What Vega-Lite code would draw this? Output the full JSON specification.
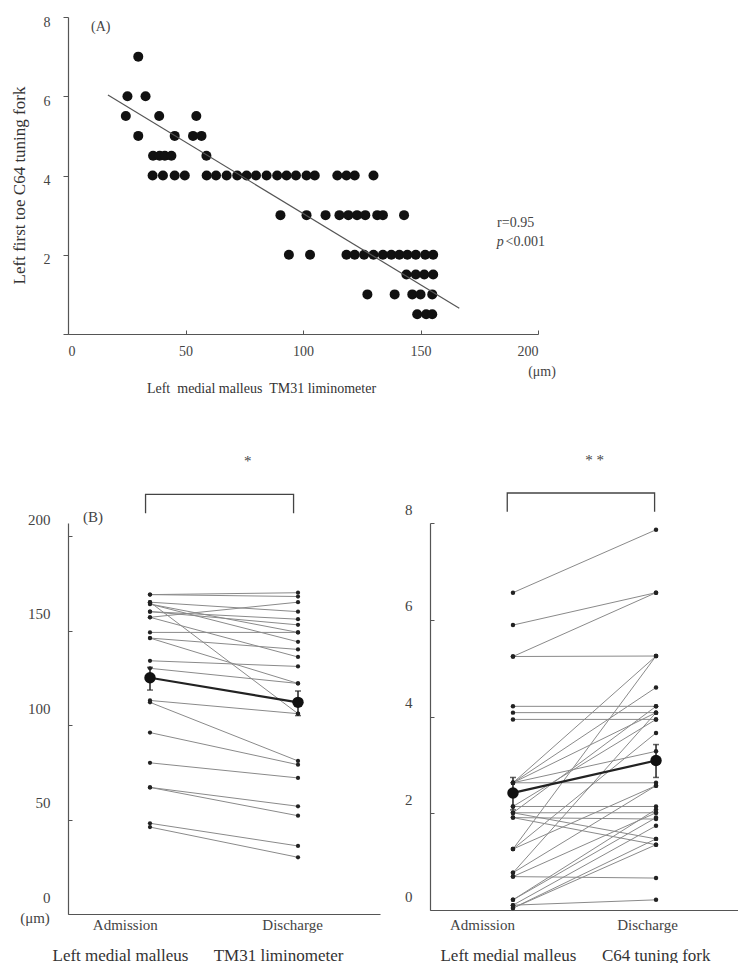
{
  "$schema": "https://vega.github.io/schema/vega-lite/v6.json",
  "padding": {"left": 10, "top": 15, "right": 0, "bottom": 0},
  "background": "white",
  "config": {
    "font": "Liberation Serif",
    "view": {"stroke": null},
    "axis": {
      "grid": false,
      "domainColor": "#555",
      "tickColor": "#555",
      "labelColor": "#444",
      "titleColor": "#333",
      "labelFont": "Liberation Serif",
      "titleFont": "Liberation Serif",
      "labelFontSize": 14,
      "titleFontSize": 15,
      "titleFontWeight": "normal",
      "domainWidth": 1.2
    },
    "text": {"font": "Liberation Serif", "color": "#444"}
  },
  "datasets": {
    "scatter": [
      {"malleus": 29.9, "c64": 7},
      {"malleus": 25.3, "c64": 6}, {"malleus": 33, "c64": 6},
      {"malleus": 24.6, "c64": 5.5}, {"malleus": 38.8, "c64": 5.5}, {"malleus": 54.6, "c64": 5.5},
      {"malleus": 29.9, "c64": 5}, {"malleus": 45.4, "c64": 5}, {"malleus": 53.2, "c64": 5}, {"malleus": 56.8, "c64": 5},
      {"malleus": 36.2, "c64": 4.5}, {"malleus": 39, "c64": 4.5}, {"malleus": 41.2, "c64": 4.5}, {"malleus": 44, "c64": 4.5}, {"malleus": 58.9, "c64": 4.5},
      {"malleus": 36, "c64": 4}, {"malleus": 40.4, "c64": 4}, {"malleus": 45.4, "c64": 4}, {"malleus": 49.7, "c64": 4},
      {"malleus": 59, "c64": 4}, {"malleus": 63, "c64": 4}, {"malleus": 67.5, "c64": 4}, {"malleus": 72, "c64": 4},
      {"malleus": 76, "c64": 4}, {"malleus": 80, "c64": 4}, {"malleus": 84.5, "c64": 4}, {"malleus": 89, "c64": 4},
      {"malleus": 93, "c64": 4}, {"malleus": 97, "c64": 4}, {"malleus": 101.5, "c64": 4}, {"malleus": 105, "c64": 4},
      {"malleus": 114.6, "c64": 4}, {"malleus": 118.5, "c64": 4}, {"malleus": 122, "c64": 4}, {"malleus": 130, "c64": 4},
      {"malleus": 90.4, "c64": 3}, {"malleus": 101.5, "c64": 3}, {"malleus": 109.6, "c64": 3}, {"malleus": 115.5, "c64": 3},
      {"malleus": 119.3, "c64": 3}, {"malleus": 123, "c64": 3}, {"malleus": 126.5, "c64": 3}, {"malleus": 131.6, "c64": 3},
      {"malleus": 134, "c64": 3}, {"malleus": 143, "c64": 3},
      {"malleus": 94, "c64": 2}, {"malleus": 103, "c64": 2}, {"malleus": 118.5, "c64": 2}, {"malleus": 122, "c64": 2},
      {"malleus": 126, "c64": 2}, {"malleus": 130, "c64": 2}, {"malleus": 134, "c64": 2}, {"malleus": 137.6, "c64": 2},
      {"malleus": 141, "c64": 2}, {"malleus": 144.4, "c64": 2}, {"malleus": 148, "c64": 2}, {"malleus": 152, "c64": 2},
      {"malleus": 155.4, "c64": 2},
      {"malleus": 144, "c64": 1.5}, {"malleus": 148, "c64": 1.5}, {"malleus": 151.6, "c64": 1.5}, {"malleus": 155.4, "c64": 1.5},
      {"malleus": 127.4, "c64": 1}, {"malleus": 139, "c64": 1}, {"malleus": 146.5, "c64": 1}, {"malleus": 150, "c64": 1}, {"malleus": 155, "c64": 1},
      {"malleus": 148.6, "c64": 0.5}, {"malleus": 152.4, "c64": 0.5}, {"malleus": 155, "c64": 0.5}
    ],
    "fit": [
      {"malleus": 17, "c64": 6.03},
      {"malleus": 166.5, "c64": 0.65}
    ],
    "annA": [
      {"x": 9.8, "y": 7.76, "label": "(A)", "align": "left"},
      {"x": 182.6, "y": 2.79, "label": "r=0.95", "align": "left"},
      {"x": 186.2, "y": 2.31, "label": "<0.001", "align": "left"}
    ],
    "annAitalic": [
      {"x": 182.4, "y": 2.31, "label": "p"}
    ],
    "annAunit": [
      {"x": 201.7, "y": -0.95, "label": "(μm)"}
    ],
    "tm31": [
      {"id": 1, "t": 0, "v": 169}, {"id": 1, "t": 1, "v": 170},
      {"id": 2, "t": 0, "v": 169}, {"id": 2, "t": 1, "v": 168},
      {"id": 3, "t": 0, "v": 165}, {"id": 3, "t": 1, "v": 160},
      {"id": 4, "t": 0, "v": 165}, {"id": 4, "t": 1, "v": 106},
      {"id": 5, "t": 0, "v": 164}, {"id": 5, "t": 1, "v": 149},
      {"id": 6, "t": 0, "v": 164}, {"id": 6, "t": 1, "v": 144},
      {"id": 7, "t": 0, "v": 160}, {"id": 7, "t": 1, "v": 156},
      {"id": 8, "t": 0, "v": 160}, {"id": 8, "t": 1, "v": 153},
      {"id": 9, "t": 0, "v": 157}, {"id": 9, "t": 1, "v": 165},
      {"id": 10, "t": 0, "v": 157}, {"id": 10, "t": 1, "v": 136},
      {"id": 11, "t": 0, "v": 149}, {"id": 11, "t": 1, "v": 149},
      {"id": 12, "t": 0, "v": 146}, {"id": 12, "t": 1, "v": 140},
      {"id": 13, "t": 0, "v": 146}, {"id": 13, "t": 1, "v": 122},
      {"id": 14, "t": 0, "v": 134}, {"id": 14, "t": 1, "v": 131},
      {"id": 15, "t": 0, "v": 130}, {"id": 15, "t": 1, "v": 122},
      {"id": 16, "t": 0, "v": 113}, {"id": 16, "t": 1, "v": 106},
      {"id": 17, "t": 0, "v": 112}, {"id": 17, "t": 1, "v": 81},
      {"id": 18, "t": 0, "v": 96}, {"id": 18, "t": 1, "v": 79},
      {"id": 19, "t": 0, "v": 80}, {"id": 19, "t": 1, "v": 72},
      {"id": 20, "t": 0, "v": 67}, {"id": 20, "t": 1, "v": 57},
      {"id": 21, "t": 0, "v": 67}, {"id": 21, "t": 1, "v": 52},
      {"id": 22, "t": 0, "v": 48}, {"id": 22, "t": 1, "v": 36},
      {"id": 23, "t": 0, "v": 46}, {"id": 23, "t": 1, "v": 30}
    ],
    "tm31mean": [
      {"t": 0, "mean": 125, "lo": 118.5, "hi": 130.5},
      {"t": 1, "mean": 112, "lo": 105, "hi": 118}
    ],
    "bracketL": [
      {"t": -0.03, "v": 212, "o": 1},
      {"t": -0.03, "v": 222, "o": 2},
      {"t": 0.97, "v": 222, "o": 3},
      {"t": 0.97, "v": 212, "o": 4}
    ],
    "annBL": [
      {"t": 0.66, "v": 239.7, "label": "*"},
      {"t": -0.385, "v": 210, "label": "(B)"},
      {"t": -0.777, "v": -2.1, "label": "(μm)"}
    ],
    "c64": [
      {"id": 1, "t": 0, "v": 6.56}, {"id": 1, "t": 1, "v": 7.86},
      {"id": 2, "t": 0, "v": 5.89}, {"id": 2, "t": 1, "v": 6.56},
      {"id": 3, "t": 0, "v": 5.24}, {"id": 3, "t": 1, "v": 6.56},
      {"id": 4, "t": 0, "v": 5.24}, {"id": 4, "t": 1, "v": 5.25},
      {"id": 5, "t": 0, "v": 4.21}, {"id": 5, "t": 1, "v": 4.21},
      {"id": 6, "t": 0, "v": 4.08}, {"id": 6, "t": 1, "v": 4.08},
      {"id": 7, "t": 0, "v": 3.94}, {"id": 7, "t": 1, "v": 3.94},
      {"id": 8, "t": 0, "v": 2.63}, {"id": 8, "t": 1, "v": 5.25},
      {"id": 9, "t": 0, "v": 2.63}, {"id": 9, "t": 1, "v": 4.6},
      {"id": 10, "t": 0, "v": 2.63}, {"id": 10, "t": 1, "v": 4.08},
      {"id": 11, "t": 0, "v": 2.63}, {"id": 11, "t": 1, "v": 3.28},
      {"id": 12, "t": 0, "v": 2.63}, {"id": 12, "t": 1, "v": 2.63},
      {"id": 13, "t": 0, "v": 2.14}, {"id": 13, "t": 1, "v": 2.14},
      {"id": 14, "t": 0, "v": 2.14}, {"id": 14, "t": 1, "v": 3.94},
      {"id": 15, "t": 0, "v": 2.01}, {"id": 15, "t": 1, "v": 2.01},
      {"id": 16, "t": 0, "v": 2.01}, {"id": 16, "t": 1, "v": 4.21},
      {"id": 17, "t": 0, "v": 2.01}, {"id": 17, "t": 1, "v": 1.47},
      {"id": 18, "t": 0, "v": 1.91}, {"id": 18, "t": 1, "v": 1.88},
      {"id": 19, "t": 0, "v": 1.91}, {"id": 19, "t": 1, "v": 1.35},
      {"id": 20, "t": 0, "v": 1.26}, {"id": 20, "t": 1, "v": 3.66},
      {"id": 21, "t": 0, "v": 1.26}, {"id": 21, "t": 1, "v": 5.25},
      {"id": 22, "t": 0, "v": 1.26}, {"id": 22, "t": 1, "v": 2.57},
      {"id": 23, "t": 0, "v": 0.77}, {"id": 23, "t": 1, "v": 2.57},
      {"id": 24, "t": 0, "v": 0.77}, {"id": 24, "t": 1, "v": 4.08},
      {"id": 25, "t": 0, "v": 0.69}, {"id": 25, "t": 1, "v": 0.66},
      {"id": 26, "t": 0, "v": 0.69}, {"id": 26, "t": 1, "v": 2.01},
      {"id": 27, "t": 0, "v": 0.21}, {"id": 27, "t": 1, "v": 2.08},
      {"id": 28, "t": 0, "v": 0.21}, {"id": 28, "t": 1, "v": 1.91},
      {"id": 29, "t": 0, "v": 0.1}, {"id": 29, "t": 1, "v": 0.21},
      {"id": 30, "t": 0, "v": 0.1}, {"id": 30, "t": 1, "v": 1.74},
      {"id": 31, "t": 0, "v": 0.04}, {"id": 31, "t": 1, "v": 1.47},
      {"id": 32, "t": 0, "v": 0.04}, {"id": 32, "t": 1, "v": 1.35}
    ],
    "c64mean": [
      {"t": 0, "mean": 2.42, "lo": 2.07, "hi": 2.74},
      {"t": 1, "mean": 3.09, "lo": 2.74, "hi": 3.42}
    ],
    "bracketR": [
      {"t": -0.04, "v": 8.23, "o": 1},
      {"t": -0.04, "v": 8.62, "o": 2},
      {"t": 0.99, "v": 8.62, "o": 3},
      {"t": 0.99, "v": 8.23, "o": 4}
    ],
    "annBR": [
      {"t": 0.57, "v": 9.3, "label": "* *"}
    ]
  },
  "bounds": "flush",
  "spacing": 189,
  "vconcat": [
    {
      "width": 470,
      "height": 317,
      "layer": [
        {
          "data": {"name": "scatter"},
          "mark": {"type": "circle", "size": 100, "color": "#111", "opacity": 1},
          "encoding": {
            "x": {"field": "malleus", "type": "quantitative", "scale": {"domain": [0, 200]},
                  "axis": {"values": [0, 50, 100, 150, 200], "title": "Left\u00a0 medial malleus\u00a0 TM31 liminometer",
                           "titleX": 193, "titleY": 54, "titleBaseline": "middle", "titleFontSize": 14,
                           "labelFontSize": 14, "tickSize": -4, "labelPadding": 14}},
            "y": {"field": "c64", "type": "quantitative", "scale": {"domain": [0, 8]},
                  "axis": {"values": [0, 2, 4, 6, 8], "labelExpr": "datum.value == 0 ? '' : datum.label",
                           "title": "Left first toe C64 tuning fork", "titleFontSize": 17, "labelFontSize": 14,
                           "labelOffset": 5, "tickSize": 5, "labelPadding": 13, "titlePadding": 15, "titleY": 168}}
          }
        },
        {
          "data": {"name": "fit"},
          "mark": {"type": "line", "color": "#555", "strokeWidth": 1.2},
          "encoding": {
            "x": {"field": "malleus", "type": "quantitative", "scale": {"domain": [0, 200]}},
            "y": {"field": "c64", "type": "quantitative", "scale": {"domain": [0, 8]}}
          }
        },
        {
          "data": {"name": "annA"},
          "mark": {"type": "text", "align": "left", "baseline": "middle", "fontSize": 14},
          "encoding": {
            "x": {"field": "x", "type": "quantitative", "scale": {"domain": [0, 200]}},
            "y": {"field": "y", "type": "quantitative", "scale": {"domain": [0, 8]}},
            "text": {"field": "label"}
          }
        },
        {
          "data": {"name": "annAitalic"},
          "mark": {"type": "text", "align": "left", "baseline": "middle", "fontSize": 14, "fontStyle": "italic"},
          "encoding": {
            "x": {"field": "x", "type": "quantitative", "scale": {"domain": [0, 200]}},
            "y": {"field": "y", "type": "quantitative", "scale": {"domain": [0, 8]}},
            "text": {"field": "label"}
          }
        },
        {
          "data": {"name": "annAunit"},
          "mark": {"type": "text", "align": "center", "baseline": "middle", "fontSize": 14},
          "encoding": {
            "x": {"field": "x", "type": "quantitative", "scale": {"domain": [0, 200]}},
            "y": {"field": "y", "type": "quantitative", "scale": {"domain": [0, 8]}},
            "text": {"field": "label"}
          }
        }
      ]
    },
    {
      "bounds": "flush",
      "spacing": 50,
      "hconcat": [
        {
          "width": 312,
          "height": 391,
          "layer": [
            {
              "data": {"name": "tm31"},
              "mark": {"type": "line", "color": "#8a8a8a", "strokeWidth": 1},
              "encoding": {
                "x": {"field": "t", "type": "quantitative", "scale": {"domain": [-0.554, 1.554]},
                      "axis": {"values": [-0.17, 0.96], "labelExpr": "datum.value < 0.5 ? 'Admission' : 'Discharge'",
                               "ticks": false, "labelPadding": 3, "labelFontSize": 15,
                               "title": "Left medial malleus\u00a0\u00a0\u00a0\u00a0\u00a0 TM31 liminometer", "titleFontSize": 17,
                               "titleX": 129.5, "titleY": 41, "titleBaseline": "middle"}},
                "y": {"field": "v", "type": "quantitative", "scale": {"domain": [0, 206.9]},
                      "axis": {"values": [0, 50, 100, 150, 200], "labelOffset": -17, "tickSize": -4, "labelPadding": 22,
                               "title": null, "labelFontSize": 15}},
                "detail": {"field": "id", "type": "nominal"}
              }
            },
            {
              "data": {"name": "tm31"},
              "mark": {"type": "circle", "size": 18, "color": "#222", "opacity": 1},
              "encoding": {
                "x": {"field": "t", "type": "quantitative", "scale": {"domain": [-0.554, 1.554]}},
                "y": {"field": "v", "type": "quantitative", "scale": {"domain": [0, 206.9]}}
              }
            },
            {
              "data": {"name": "tm31mean"},
              "mark": {"type": "line", "color": "#222", "strokeWidth": 2.2},
              "encoding": {
                "x": {"field": "t", "type": "quantitative", "scale": {"domain": [-0.554, 1.554]}},
                "y": {"field": "mean", "type": "quantitative", "scale": {"domain": [0, 206.9]}}
              }
            },
            {
              "data": {"name": "tm31mean"},
              "mark": {"type": "errorbar", "ticks": {"size": 6}, "color": "#222", "thickness": 1.5},
              "encoding": {
                "x": {"field": "t", "type": "quantitative", "scale": {"domain": [-0.554, 1.554]}},
                "y": {"field": "lo", "type": "quantitative", "scale": {"domain": [0, 206.9]}},
                "y2": {"field": "hi"}
              }
            },
            {
              "data": {"name": "tm31mean"},
              "mark": {"type": "circle", "size": 130, "color": "#111", "opacity": 1},
              "encoding": {
                "x": {"field": "t", "type": "quantitative", "scale": {"domain": [-0.554, 1.554]}},
                "y": {"field": "mean", "type": "quantitative", "scale": {"domain": [0, 206.9]}}
              }
            },
            {
              "data": {"name": "bracketL"},
              "mark": {"type": "line", "color": "#444", "strokeWidth": 1.3},
              "encoding": {
                "x": {"field": "t", "type": "quantitative", "scale": {"domain": [-0.554, 1.554]}},
                "y": {"field": "v", "type": "quantitative", "scale": {"domain": [0, 206.9]}},
                "order": {"field": "o"}
              }
            },
            {
              "data": {"name": "annBL"},
              "mark": {"type": "text", "align": "center", "baseline": "middle", "fontSize": 15},
              "encoding": {
                "x": {"field": "t", "type": "quantitative", "scale": {"domain": [-0.554, 1.554]}},
                "y": {"field": "v", "type": "quantitative", "scale": {"domain": [0, 206.9]}},
                "text": {"field": "label"}
              }
            }
          ]
        },
        {
          "width": 308,
          "height": 387,
          "layer": [
            {
              "data": {"name": "c64"},
              "mark": {"type": "line", "color": "#8a8a8a", "strokeWidth": 1},
              "encoding": {
                "x": {"field": "t", "type": "quantitative", "scale": {"domain": [-0.58, 1.573]},
                      "axis": {"values": [-0.217, 0.937], "labelExpr": "datum.value < 0.5 ? 'Admission' : 'Discharge'",
                               "ticks": false, "labelPadding": 7, "labelFontSize": 15,
                               "title": "Left medial malleus\u00a0\u00a0\u00a0\u00a0\u00a0 C64 tuning fork", "titleFontSize": 17,
                               "titleX": 145, "titleY": 45, "titleBaseline": "middle"}},
                "y": {"field": "v", "type": "quantitative", "scale": {"domain": [0, 8]},
                      "axis": {"values": [0, 2, 4, 6, 8], "labelOffset": -14, "tickSize": -4, "labelPadding": 22,
                               "title": null, "labelFontSize": 15}},
                "detail": {"field": "id", "type": "nominal"}
              }
            },
            {
              "data": {"name": "c64"},
              "mark": {"type": "circle", "size": 20, "color": "#222", "opacity": 1},
              "encoding": {
                "x": {"field": "t", "type": "quantitative", "scale": {"domain": [-0.58, 1.573]}},
                "y": {"field": "v", "type": "quantitative", "scale": {"domain": [0, 8]}}
              }
            },
            {
              "data": {"name": "c64mean"},
              "mark": {"type": "line", "color": "#222", "strokeWidth": 2.2},
              "encoding": {
                "x": {"field": "t", "type": "quantitative", "scale": {"domain": [-0.58, 1.573]}},
                "y": {"field": "mean", "type": "quantitative", "scale": {"domain": [0, 8]}}
              }
            },
            {
              "data": {"name": "c64mean"},
              "mark": {"type": "errorbar", "ticks": {"size": 6}, "color": "#222", "thickness": 1.5},
              "encoding": {
                "x": {"field": "t", "type": "quantitative", "scale": {"domain": [-0.58, 1.573]}},
                "y": {"field": "lo", "type": "quantitative", "scale": {"domain": [0, 8]}},
                "y2": {"field": "hi"}
              }
            },
            {
              "data": {"name": "c64mean"},
              "mark": {"type": "circle", "size": 130, "color": "#111", "opacity": 1},
              "encoding": {
                "x": {"field": "t", "type": "quantitative", "scale": {"domain": [-0.58, 1.573]}},
                "y": {"field": "mean", "type": "quantitative", "scale": {"domain": [0, 8]}}
              }
            },
            {
              "data": {"name": "bracketR"},
              "mark": {"type": "line", "color": "#444", "strokeWidth": 1.3},
              "encoding": {
                "x": {"field": "t", "type": "quantitative", "scale": {"domain": [-0.58, 1.573]}},
                "y": {"field": "v", "type": "quantitative", "scale": {"domain": [0, 8]}},
                "order": {"field": "o"}
              }
            },
            {
              "data": {"name": "annBR"},
              "mark": {"type": "text", "align": "center", "baseline": "middle", "fontSize": 15},
              "encoding": {
                "x": {"field": "t", "type": "quantitative", "scale": {"domain": [-0.58, 1.573]}},
                "y": {"field": "v", "type": "quantitative", "scale": {"domain": [0, 8]}},
                "text": {"field": "label"}
              }
            }
          ]
        }
      ]
    }
  ]
}
